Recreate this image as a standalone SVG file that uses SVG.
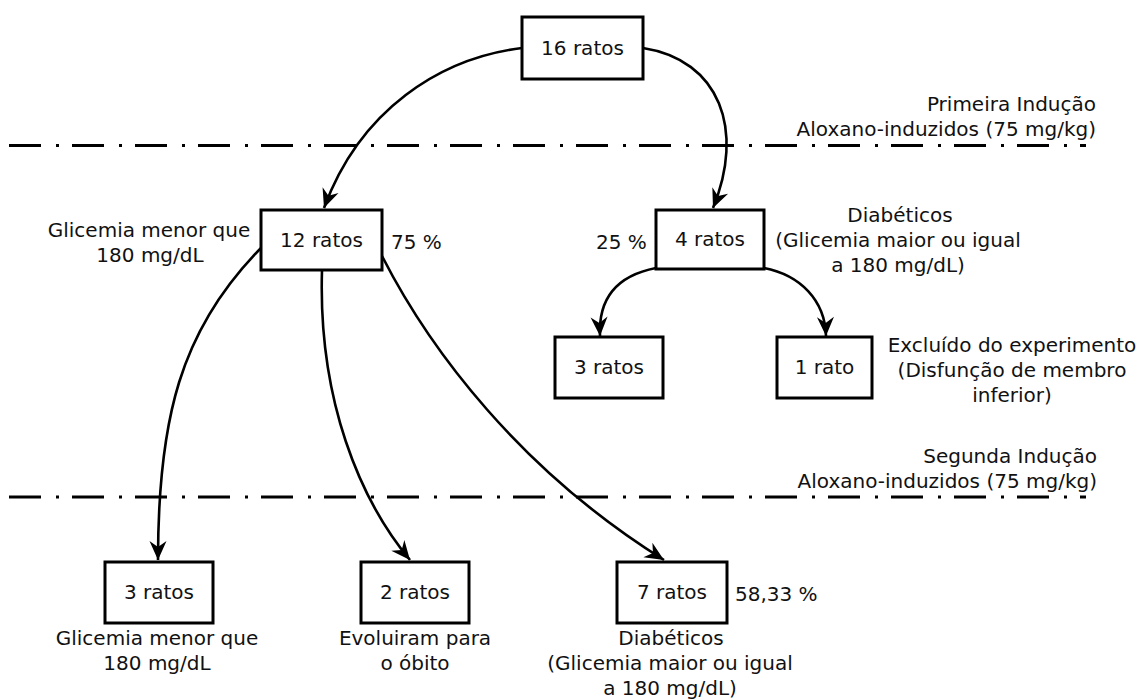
<svg xmlns="http://www.w3.org/2000/svg" width="1143" height="700" viewBox="0 0 1143 700">
<style>
text{font-family:"DejaVu Sans","Liberation Sans",sans-serif;font-size:20px;fill:#111}
.c{text-anchor:middle}
.e{text-anchor:end}
.box{fill:#fff;stroke:#000;stroke-width:3}
.sep{stroke:#000;stroke-width:3;stroke-dasharray:32 15 3 13;fill:none}
.con{fill:none;stroke:#000;stroke-width:2.6;marker-end:url(#arr)}
</style>
<defs>
<marker id="arr" markerUnits="userSpaceOnUse" viewBox="-21 -10 22 20" refX="0" refY="0" markerWidth="22" markerHeight="20" orient="auto">
<path d="M0,0 L-19,-8.5 L-13,0 L-19,8.5 Z" fill="#000"/>
</marker>
</defs>
<rect width="1143" height="700" fill="#fff"/>
<g id="separators">
<line class="sep" x1="9" y1="145.5" x2="1086" y2="145.5"/>
<line class="sep" x1="9" y1="497" x2="1086" y2="497"/>
<text class="e" x="1096" y="111">Primeira Indução</text>
<text class="e" x="1096" y="136">Aloxano-induzidos (75 mg/kg)</text>
<text class="e" x="1097" y="463">Segunda Indução</text>
<text class="e" x="1097" y="488">Aloxano-induzidos (75 mg/kg)</text>
</g>
<g id="connectors">
<path class="con" d="M522,48 C440,58 360,110 324,208"/>
<path class="con" d="M643,48 C720,60 745,130 713,208"/>
<path class="con" d="M261,248 C180,330 158,420 158,560"/>
<path class="con" d="M322,270 C318,400 360,500 410,560"/>
<path class="con" d="M382,256 C430,350 520,470 664,560"/>
<path class="con" d="M656,268 C620,275 598,295 600,336"/>
<path class="con" d="M764,268 C800,275 825,300 826,336"/>
</g>
<g id="n16">
<rect class="box" x="522" y="17" width="121" height="62"/>
<text class="c" x="582.5" y="55">16 ratos</text>
</g>
<g id="n12">
<rect class="box" x="261" y="210" width="121" height="60"/>
<text class="c" x="321.5" y="247">12 ratos</text>
<text class="c" x="149" y="237">Glicemia menor que</text>
<text class="c" x="150" y="262">180 mg/dL</text>
<text x="391" y="249">75 %</text>
</g>
<g id="n4">
<rect class="box" x="656" y="210" width="108" height="59"/>
<text class="c" x="710" y="246">4 ratos</text>
<text x="596" y="249">25 %</text>
<text class="c" x="900" y="222">Diabéticos</text>
<text class="c" x="898" y="247">(Glicemia maior ou igual</text>
<text class="c" x="898" y="272">a 180 mg/dL)</text>
</g>
<g id="n3a">
<rect class="box" x="555" y="337" width="108" height="61"/>
<text class="c" x="609" y="374">3 ratos</text>
</g>
<g id="n1">
<rect class="box" x="777" y="337" width="95" height="61"/>
<text class="c" x="824.5" y="374">1 rato</text>
<text class="c" x="1012" y="352">Excluído do experimento</text>
<text class="c" x="1012" y="377">(Disfunção de membro</text>
<text class="c" x="1012" y="402">inferior)</text>
</g>
<g id="n3b">
<rect class="box" x="105" y="562" width="108" height="61"/>
<text class="c" x="159" y="599">3 ratos</text>
<text class="c" x="157" y="645">Glicemia menor que</text>
<text class="c" x="157" y="670">180 mg/dL</text>
</g>
<g id="n2">
<rect class="box" x="361" y="562" width="108" height="61"/>
<text class="c" x="415" y="599">2 ratos</text>
<text class="c" x="415" y="645">Evoluiram para</text>
<text class="c" x="415" y="670">o óbito</text>
</g>
<g id="n7">
<rect class="box" x="617" y="562" width="110" height="61"/>
<text class="c" x="672" y="599">7 ratos</text>
<text x="735" y="601">58,33 %</text>
<text class="c" x="671" y="645">Diabéticos</text>
<text class="c" x="670" y="670">(Glicemia maior ou igual</text>
<text class="c" x="670" y="695">a 180 mg/dL)</text>
</g>
</svg>
